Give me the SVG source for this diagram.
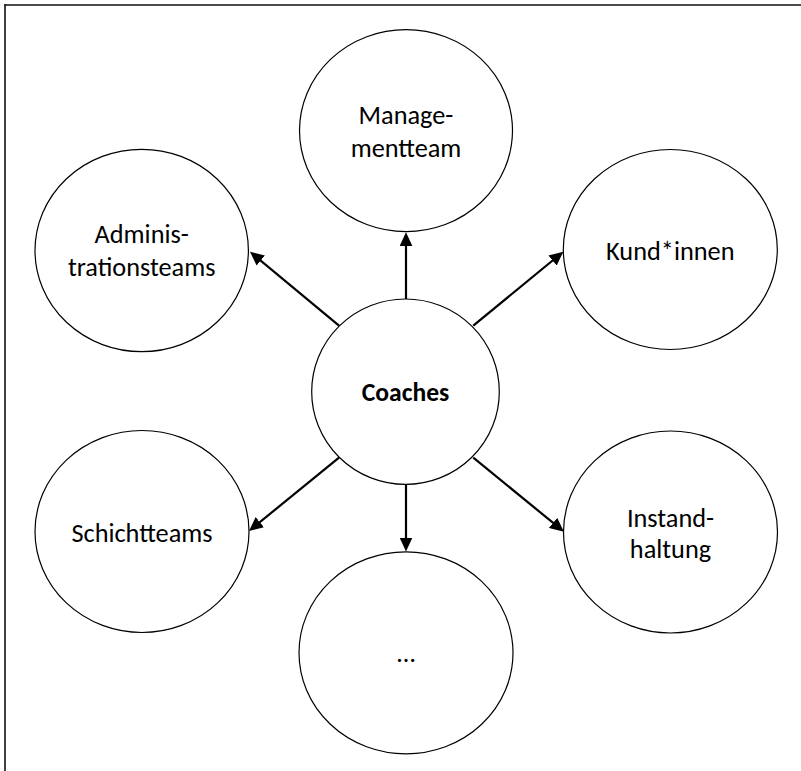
<svg xmlns="http://www.w3.org/2000/svg" width="801" height="771" viewBox="0 0 801 771">
<style>
.node ellipse{fill:#fff;stroke:#000;stroke-width:1.2}
.node text{font-family:Carlito,Lato,"Liberation Sans",sans-serif;font-size:26.3px;fill:#000;text-anchor:middle}
.node text.b{font-weight:bold;font-size:25.6px}
.conn line{stroke:#000;stroke-width:2.2;marker-end:url(#ah)}
</style>
<defs>
<marker id="ah" viewBox="0 0 14 13" refX="8" refY="6.5" markerWidth="14" markerHeight="13" markerUnits="userSpaceOnUse" orient="auto">
<path d="M0,0 L14,6.5 L0,13 Z" fill="#000"/>
</marker>
</defs>
<rect width="801" height="771" fill="#fff"/>
<g id="frame" stroke="#111" stroke-width="1.6">
<line x1="5" y1="4.2" x2="5" y2="771"/>
<line x1="4.2" y1="5" x2="801" y2="5"/>
</g>
<g id="connectors" class="conn">
<line x1="406" y1="299" x2="406" y2="238.3"/>
<line x1="406" y1="484.5" x2="406" y2="545.5"/>
<line x1="339" y1="325.7" x2="254.6" y2="255.5"/>
<line x1="473.3" y1="325.7" x2="558.7" y2="255.5"/>
<line x1="339" y1="457.7" x2="253.6" y2="527.2"/>
<line x1="473.3" y1="457.7" x2="559.3" y2="527.9"/>
</g>
<g id="coaches" class="node">
<ellipse cx="405.5" cy="391.7" rx="93.8" ry="92.7"/>
<text class="b" x="405.5" y="400.7">Coaches</text>
</g>
<g id="managementteam" class="node">
<ellipse cx="406" cy="130.6" rx="106.5" ry="101"/>
<text x="406" y="124.3">Manage-</text>
<text x="406" y="156.7">mentteam</text>
</g>
<g id="administrationsteams" class="node">
<ellipse cx="141.7" cy="250.5" rx="106.7" ry="101.2"/>
<text x="141.7" y="243.3">Adminis-</text>
<text x="141.7" y="276">trationsteams</text>
</g>
<g id="kundinnen" class="node">
<ellipse cx="670.3" cy="249.5" rx="107" ry="100"/>
<text x="670.3" y="260">Kund*innen</text>
</g>
<g id="schichtteams" class="node">
<ellipse cx="142" cy="531.5" rx="107" ry="101"/>
<text x="142" y="541.7">Schichtteams</text>
</g>
<g id="instandhaltung" class="node">
<ellipse cx="670.5" cy="532" rx="107" ry="101"/>
<text x="670.5" y="526.7">Instand-</text>
<text x="670.5" y="558">haltung</text>
</g>
<g id="weitere" class="node">
<ellipse cx="406" cy="652.8" rx="107" ry="101"/>
<text x="406" y="662.3">…</text>
</g>
</svg>
